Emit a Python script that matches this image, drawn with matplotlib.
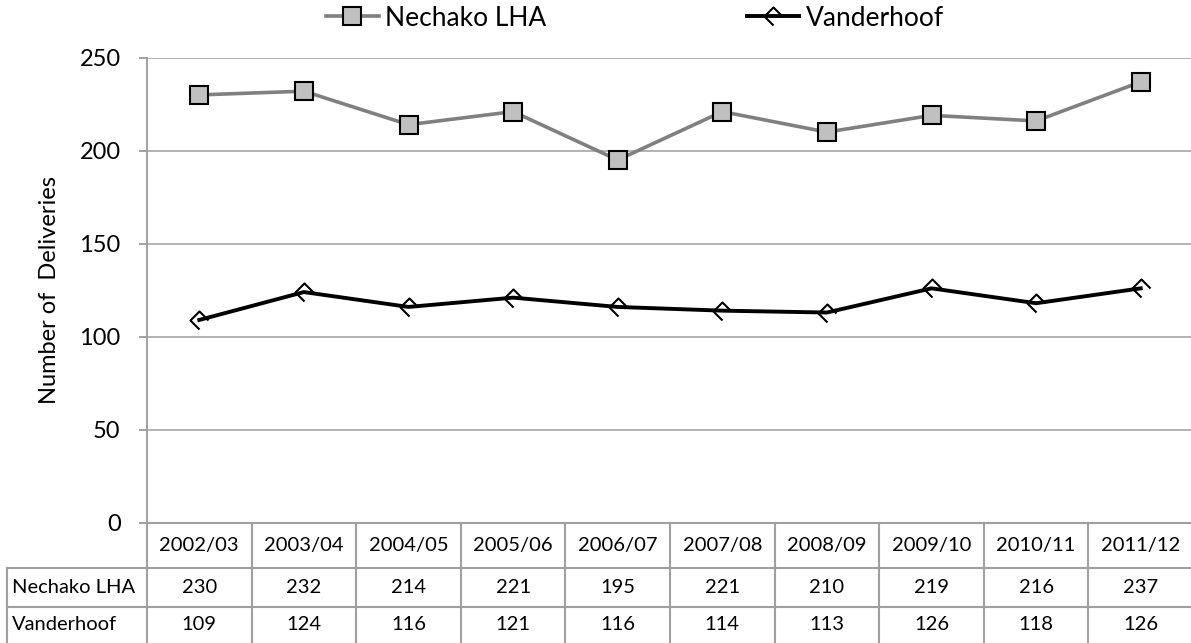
import matplotlib
matplotlib.use("Agg")
import matplotlib.pyplot as plt
from matplotlib.path import Path
from matplotlib.lines import Line2D

plt.rcParams['font.family'] = ['Lato', 'DejaVu Sans']

years = ["2002/03", "2003/04", "2004/05", "2005/06", "2006/07",
         "2007/08", "2008/09", "2009/10", "2010/11", "2011/12"]
nechako = [230, 232, 214, 221, 195, 221, 210, 219, 216, 237]
vanderhoof = [109, 124, 116, 121, 116, 114, 113, 126, 118, 126]
series_names = ["Nechako LHA", "Vanderhoof"]
yticks = [0, 50, 100, 150, 200, 250]

W, H = 1191, 643
fig = plt.figure(figsize=(W / 100, H / 100), dpi=100)

ax_l, ax_r, ax_t, ax_b = 147, 1193, 57.7, 522.7
ax = fig.add_axes([ax_l / W, 1 - ax_b / H, (ax_r - ax_l) / W, (ax_b - ax_t) / H])

x = list(range(len(years)))
open_diamond = Path([(1, 0), (0, 1), (-1, 0), (0, -1)],
                    [Path.MOVETO, Path.LINETO, Path.LINETO, Path.LINETO])

ax.plot(x, nechako, color="#808080", lw=2.6, marker="s", markersize=13,
        markerfacecolor="#C0C0C0", markeredgecolor="black", markeredgewidth=1.5,
        zorder=3)
ax.plot(x, vanderhoof, color="black", lw=2.8, marker=open_diamond, markersize=13,
        fillstyle="none", markeredgecolor="black", markeredgewidth=1.5, zorder=3)

ax.set_xlim(-0.5, len(years) - 0.5)
ax.set_ylim(0, 250)
ax.set_yticks(yticks)
ax.set_xticks([])
ax.grid(axis="y", color="#A6A6A6", lw=1.2)
ax.set_axisbelow(True)
for s in ["top", "right", "bottom"]:
    ax.spines[s].set_visible(False)
ax.spines["left"].set_color("#A0A0A0")
ax.spines["left"].set_linewidth(1.4)
ax.tick_params(axis="y", length=6, width=1.4, color="#A0A0A0", labelsize=17, pad=13)
ax.set_ylabel("Number of  Deliveries", fontsize=17, labelpad=14)

# legend
handles = [
    Line2D([], [], color="#808080", lw=2.6, marker="s", markersize=13,
           markerfacecolor="#C0C0C0", markeredgecolor="black", markeredgewidth=1.5),
    Line2D([], [], color="black", lw=2.8, marker=open_diamond, markersize=13,
           fillstyle="none", markeredgecolor="black", markeredgewidth=1.5),
]
fig.legend(handles, series_names, loc="center", bbox_to_anchor=(0.533, 1 - 18 / H),
           ncol=2, frameon=False, fontsize=19, handlelength=2.0, handletextpad=0.23,
           columnspacing=7.6)

# data table below the plot
tab = fig.add_axes([ax_l / W, 0, (ax_r - ax_l) / W, 1 - ax_b / H])
tab.set_xlim(-0.5, len(years) - 0.5)
tab.set_ylim(H, ax_b)
tab.axis("off")
lc, lw = "#A0A0A0", 1.5
row_y = [ax_b, 568, 607, 646]
lab_left = -0.5 - (ax_l - 7) / ((ax_r - ax_l) / len(years))
# horizontal lines
tab.plot([-0.5, len(years) - 0.5], [row_y[0]] * 2, color=lc, lw=lw, clip_on=False)
for yy in row_y[1:]:
    tab.plot([lab_left, len(years) - 0.5], [yy] * 2, color=lc, lw=lw, clip_on=False)
# vertical lines
for i in range(len(years) + 1):
    tab.plot([i - 0.5] * 2, [row_y[0], row_y[-1]], color=lc, lw=lw, clip_on=False)
tab.plot([lab_left] * 2, [row_y[1], row_y[-1]], color=lc, lw=lw, clip_on=False)

fs = 14.5
for i, yr in enumerate(years):
    tab.text(i, (row_y[0] + row_y[1]) / 2, yr, ha="center", va="center", fontsize=fs)
    tab.text(i, (row_y[1] + row_y[2]) / 2, str(nechako[i]), ha="center", va="center", fontsize=fs)
    tab.text(i, (row_y[2] + 643) / 2, str(vanderhoof[i]), ha="center", va="center", fontsize=fs)
lab_x = lab_left + 0.05
tab.text(lab_x, (row_y[1] + row_y[2]) / 2, series_names[0], ha="left", va="center", fontsize=fs)
tab.text(lab_x, (row_y[2] + 643) / 2, series_names[1], ha="left", va="center", fontsize=fs)

fig.savefig("out.png", dpi=100)
